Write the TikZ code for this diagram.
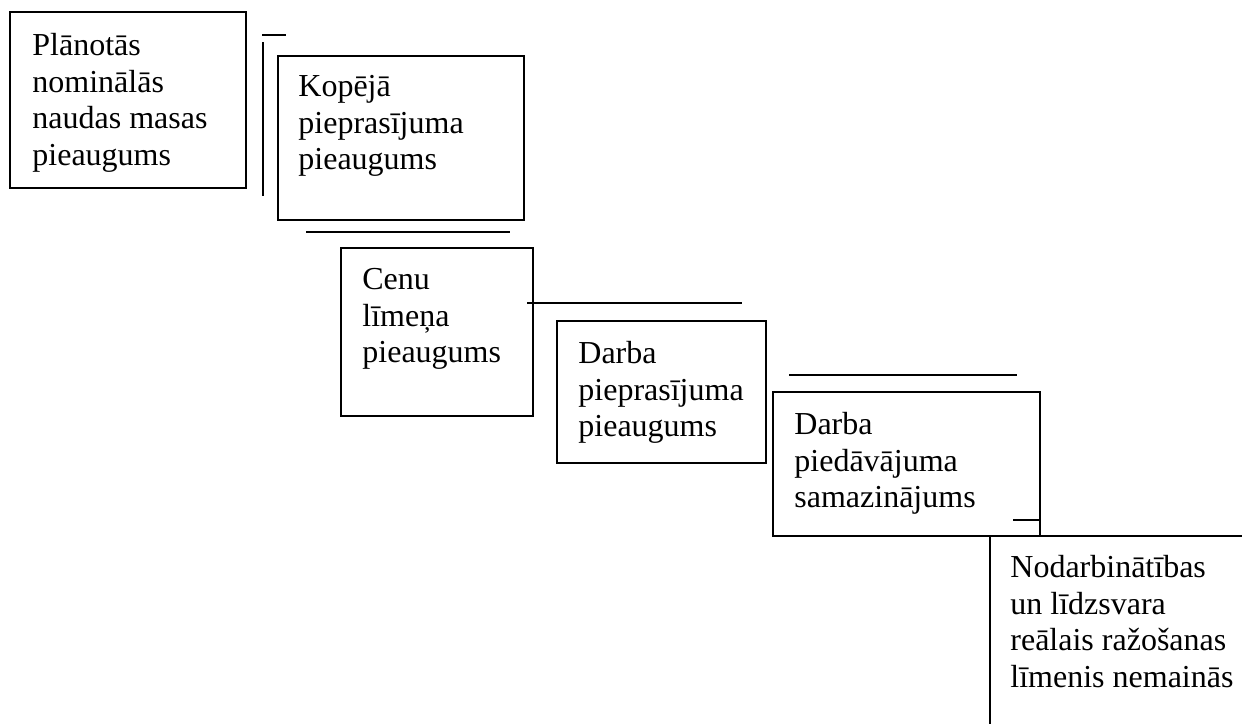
\documentclass[tikz,border=0pt]{standalone}
\usepackage{fontspec}
\setmainfont{Liberation Serif}
\usetikzlibrary{calc}

\begin{document}
\begin{tikzpicture}[x=.5pt,y=-.5pt,
box/.style={draw,line width=.9pt,anchor=north west,inner sep=0pt,outer sep=0pt},
txt/.style={anchor=north west,align=left,inner sep=0pt,
  font=\fontsize{16pt}{18.3pt}\selectfont,execute at begin node=\strut},
ln/.style={line width=.9pt}]
\useasboundingbox(0,0)rectangle(1242,724);

\node[box,minimum width=118pt,minimum height=88pt](plan)at(10,12){};
\node[txt]at($(plan.north west)+(22,21)$){Plānotās\\nominālās\\naudas masas\\pieaugums};
\node[box,minimum width=123pt,minimum height=82pt](kop)at(278,56){};
\node[txt]at($(kop.north west)+(20,19)$){Kopējā\\pieprasījuma\\pieaugums};
\node[box,minimum width=96pt,minimum height=84pt](cenu)at(341,248){};
\node[txt]at($(cenu.north west)+(21,20)$){Cenu\\līmeņa\\pieaugums};
\node[box,minimum width=104.5pt,minimum height=71pt](dpiepr)at(557,321){};
\node[txt]at($(dpiepr.north west)+(21,20)$){Darba\\pieprasījuma\\pieaugums};
\node[box,minimum width=133.5pt,minimum height=72pt](dpied)at(773,392){};
\node[txt]at($(dpied.north west)+(21,20)$){Darba\\piedāvājuma\\samazinājums};
\coordinate(nod)at(990,536);
\node[txt]at($(nod)+(20,19)$){Nodarbinātības\\un līdzsvara\\reālais ražošanas\\līmenis nemainās};

% atrautās līnijas
\draw[ln](262,35)--(286,35);
\draw[ln](263,42)--(263,196);
\draw[ln](306,232)--(510,232);
\draw[ln](527,303)--(742,303);
\draw[ln](789,375)--(1017,375);
\draw[ln](1013,520)--(dpied.east|-0,520);
\draw[ln](1242,536)--(nod)--(990,724);
\end{tikzpicture}
\end{document}
